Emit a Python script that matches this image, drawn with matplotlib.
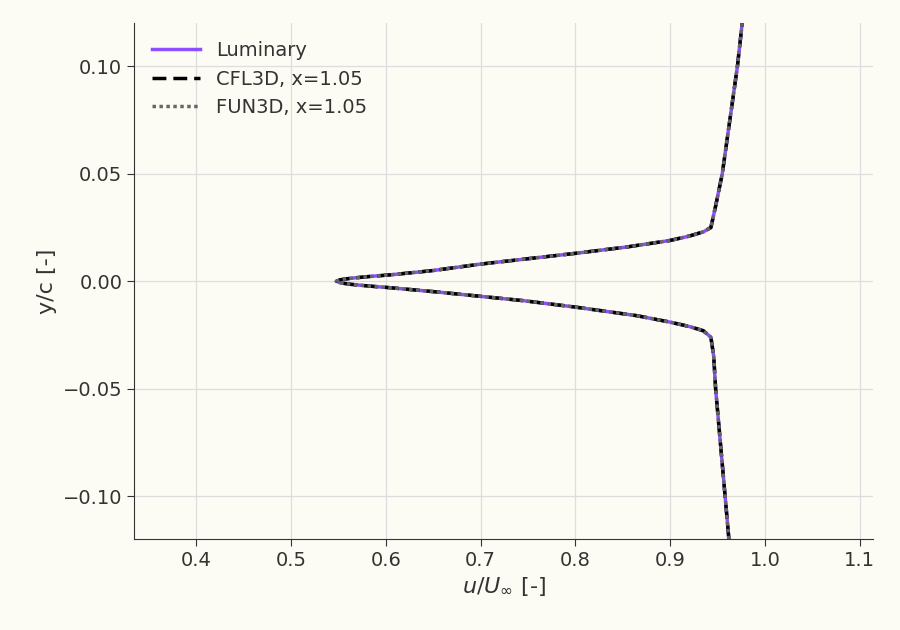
import matplotlib
matplotlib.use('agg')
import matplotlib.pyplot as plt

# wake profile (u/Uinf vs y/c)
y_vals = [-0.12, -0.10, -0.075, -0.05, -0.035, -0.026, -0.023, -0.021, -0.019, -0.016,
          -0.012, -0.009, -0.007, -0.005, -0.003, -0.0022, -0.0014, -0.0007, 0.0,
          0.0007, 0.0014, 0.0022, 0.003, 0.005, 0.008, 0.010, 0.013, 0.016, 0.019, 0.021,
          0.023, 0.025, 0.035, 0.05, 0.075, 0.10, 0.12]
u_lum = [0.962, 0.958, 0.953, 0.948, 0.946, 0.943, 0.935, 0.920, 0.900, 0.865,
         0.800, 0.745, 0.700, 0.655, 0.605, 0.582, 0.563, 0.552, 0.548,
         0.552, 0.563, 0.582, 0.605, 0.650, 0.700, 0.740, 0.800, 0.855, 0.900, 0.920,
         0.935, 0.943, 0.948, 0.955, 0.963, 0.971, 0.976]
u_cfl = list(u_lum)
u_fun = list(u_lum)

bg = '#fcfcf5'
txt = '#333333'
fig = plt.figure(figsize=(9, 6.3), dpi=100, facecolor=bg)
ax = fig.add_axes([0.149, 0.144, 0.821, 0.819], facecolor=bg)

ax.plot(u_lum, y_vals, color='#8c4fff', lw=2.5, label='Luminary')
ax.plot(u_cfl, y_vals, color='black', lw=2.5, ls=(0, (4, 2)), label='CFL3D, x=1.05')
ax.plot(u_fun, y_vals, color='#666666', lw=2.5, ls=(0, (1, 1)), label='FUN3D, x=1.05')

ax.set_xlim(0.3346, 1.114)
ax.set_ylim(-0.12, 0.12)
ax.set_xticks([0.4, 0.5, 0.6, 0.7, 0.8, 0.9, 1.0, 1.1])
ax.set_xticklabels(['0.4', '0.5', '0.6', '0.7', '0.8', '0.9', '1.0', '1.1'])
ax.set_yticks([-0.10, -0.05, 0.0, 0.05, 0.10])
ax.set_yticklabels(['\u22120.10', '\u22120.05', '0.00', '0.05', '0.10'])
ax.grid(True, color='#dddddd', lw=0.9)
ax.set_axisbelow(True)
for s in ['top', 'right']:
    ax.spines[s].set_visible(False)
for s in ['left', 'bottom']:
    ax.spines[s].set_color(txt)
ax.tick_params(colors=txt, labelsize=14, length=5)
ax.set_xlabel(r'$u/U_{\infty}$ [-]', fontsize=16, color=txt)
ax.set_ylabel('y/c [-]', fontsize=16, color=txt)
leg = ax.legend(loc='upper left', frameon=False, fontsize=14, handlelength=2.5)
for t in leg.get_texts():
    t.set_color(txt)

plt.savefig('out.png', facecolor=bg)
